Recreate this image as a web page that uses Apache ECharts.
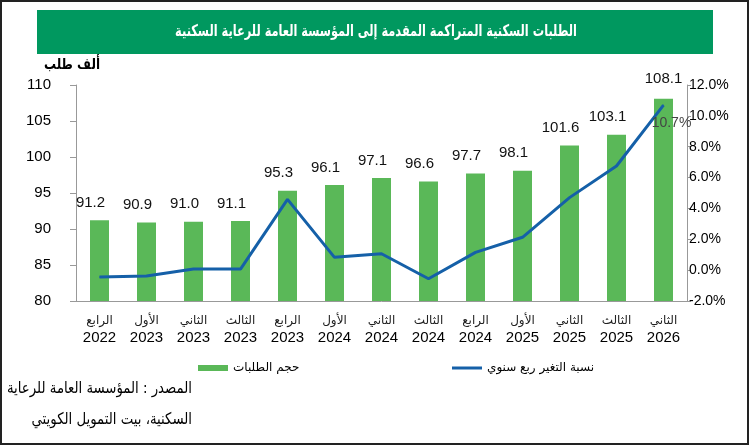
<!DOCTYPE html>
<html lang="ar" style="height: 100%">
<head>
  <meta charset="utf-8">
</head>
<body style="height: 100%; margin: 0">
  <div id="container" style="width: 750px; height: 446px"></div>

  <script type="text/javascript" src="https://cdn.jsdelivr.net/npm/echarts@6/dist/echarts.min.js"></script>

  <script type="text/javascript">
    var dom = document.getElementById('container');
    var myChart = echarts.init(dom, null, { renderer: 'canvas' });

    // data
    const quarters = ['الرابع', 'الأول', 'الثاني', 'الثالث', 'الرابع', 'الأول', 'الثاني', 'الثالث', 'الرابع', 'الأول', 'الثاني', 'الثالث', 'الثاني'];
    const years = ['2022', '2023', '2023', '2023', '2023', '2024', '2024', '2024', '2024', '2025', '2025', '2025', '2026'];
    const requests = [91.2, 90.9, 91.0, 91.1, 95.3, 96.1, 97.1, 96.6, 97.7, 98.1, 101.6, 103.1, 108.1];
    const qoqChange = [-0.45, -0.38, 0.07, 0.07, 4.59, 0.83, 1.06, -0.56, 1.15, 2.13, 4.7, 6.75, 10.7];

    const categories = quarters.map((q, i) => q + '\n' + years[i]);
    const fontNum = 'Liberation Sans, Arial, DejaVu Sans, sans-serif';
    const fontAr = 'DejaVu Sans, sans-serif';
    const last = requests.length - 1;

    var option = {
      animation: false,
      backgroundColor: '#fff',
      grid: { left: 76, right: 63, top: 85, bottom: 145 },
      graphic: [
        {
          type: 'rect',
          shape: { x: 1, y: 1, width: 747, height: 443 },
          style: { fill: 'none', stroke: '#222', lineWidth: 2 }
        },
        {
          type: 'rect',
          shape: { x: 37, y: 10, width: 676, height: 44 },
          style: { fill: '#00985F' }
        },
        {
          type: 'text', x: 376, y: 32, scaleX: 0.71,
          style: {
            text: 'الطلبات السكنية المتراكمة المقدمة إلى المؤسسة العامة للرعاية السكنية',
            fill: '#fff', font: 'bold 16px ' + fontAr,
            align: 'center', verticalAlign: 'middle'
          }
        },
        {
          type: 'text', x: 100, y: 65, scaleX: 0.8,
          style: {
            text: 'ألف طلب', fill: '#000', font: 'bold 15px ' + fontAr,
            align: 'right', verticalAlign: 'middle'
          }
        },
        {
          type: 'text', x: 192, y: 389, scaleX: 0.83,
          style: {
            text: 'المصدر : المؤسسة العامة للرعاية', fill: '#000', font: '16px ' + fontAr,
            align: 'right', verticalAlign: 'middle'
          }
        },
        {
          type: 'text', x: 192, y: 420, scaleX: 0.83,
          style: {
            text: 'السكنية، بيت التمويل الكويتي', fill: '#000', font: '16px ' + fontAr,
            align: 'right', verticalAlign: 'middle'
          }
        }
      ],
      legend: [
        {
          data: [{ name: 'حجم الطلبات', icon: 'rect' }],
          left: 193, top: 357,
          itemWidth: 30, itemHeight: 6, itemGap: 0,
          textStyle: { fontFamily: fontAr, fontSize: 12, color: '#000' }
        },
        {
          data: [{ name: 'نسبة التغير ربع سنوي', icon: 'rect' }],
          left: 447, top: 357,
          itemWidth: 30, itemHeight: 3, itemGap: 0,
          textStyle: { fontFamily: fontAr, fontSize: 12, color: '#000' }
        }
      ],
      xAxis: {
        type: 'category',
        data: categories,
        axisLine: { onZero: false, lineStyle: { color: '#999' } },
        axisTick: { length: 5, lineStyle: { color: '#999' } },
        axisLabel: {
          interval: 0,
          margin: 11,
          formatter: function (v) {
            const p = v.split('\n');
            return '{q|' + p[0] + '}\n{y|' + p[1] + '}';
          },
          rich: {
            q: { fontFamily: fontAr, fontSize: 12, color: '#222', lineHeight: 17 },
            y: { fontFamily: fontNum, fontSize: 15, color: '#000', lineHeight: 18 }
          }
        }
      },
      yAxis: [
        {
          type: 'value', min: 80, max: 110, interval: 5,
          axisLine: { show: true, lineStyle: { color: '#999' } },
          axisTick: { show: true, length: 6, lineStyle: { color: '#999' } },
          splitLine: { show: false },
          axisLabel: { margin: 25, fontFamily: fontNum, fontSize: 15, color: '#000' }
        },
        {
          type: 'value', min: -2, max: 12, interval: 2,
          axisLine: { show: true, lineStyle: { color: '#999' } },
          axisTick: { show: true, length: 4, lineStyle: { color: '#999' } },
          splitLine: { show: false },
          axisLabel: {
            margin: 2, fontFamily: fontNum, fontSize: 14, color: '#000',
            formatter: v => v.toFixed(1) + '%'
          }
        }
      ],
      series: [
        {
          name: 'حجم الطلبات',
          type: 'bar',
          data: requests.map((v, i) => i === last
            ? { value: v, label: { offset: [0, -2] } }
            : v),
          barWidth: 19,
          itemStyle: { color: '#5AB858' },
          label: {
            show: true, position: 'top', distance: 10, offset: [-9, 0],
            fontFamily: fontNum, fontSize: 15, color: '#111',
            formatter: p => p.value.toFixed(1)
          }
        },
        {
          name: 'نسبة التغير ربع سنوي',
          type: 'line',
          yAxisIndex: 1,
          symbol: 'circle',
          symbolSize: 1,
          lineStyle: { color: '#1560A8', width: 3 },
          itemStyle: { color: '#1560A8' },
          data: qoqChange.map((v, i) => i === last
            ? {
                value: v,
                label: {
                  show: true, position: 'bottom', offset: [8, 6],
                  fontFamily: fontNum, fontSize: 14, color: '#444',
                  formatter: p => p.value.toFixed(1) + '%'
                }
              }
            : v)
        }
      ]
    };

    myChart.setOption(option);
    window.addEventListener('resize', myChart.resize);
  </script>
</body>
</html>
